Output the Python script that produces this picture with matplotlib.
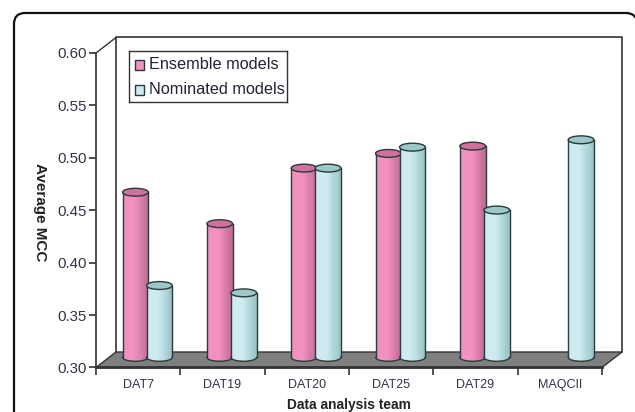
import matplotlib
matplotlib.use('Agg')
import matplotlib.pyplot as plt
from matplotlib.patches import Ellipse, FancyBboxPatch, Polygon, Rectangle
from matplotlib.transforms import Affine2D
from matplotlib.colors import to_rgb
import numpy as np

teams = ['DAT7', 'DAT19', 'DAT20', 'DAT25', 'DAT29', 'MAQCII']
ensemble = [0.461, 0.431, 0.484, 0.498, 0.505, None]
nominated = [0.372, 0.365, 0.484, 0.504, 0.444, 0.511]
yticks = [0.30, 0.35, 0.40, 0.45, 0.50, 0.55, 0.60]

PINK = '#f291bf'
PINK_DARK = '#c06c96'
PINK_TOP = '#d0709c'
BLUE = '#cdebf1'
BLUE_DARK = '#98c4c4'
BLUE_TOP = '#9cc8c8'
EDGE = '#2b3a3a'

plt.rcParams['font.family'] = ['Liberation Sans', 'DejaVu Sans']

W, H = 635, 412
fig = plt.figure(figsize=(W / 100, H / 100), dpi=100)

# rounded frame, runs off the bottom and right of the picture
bg = fig.add_axes([0, 0, 1, 1])
bg.set_xlim(0, W)
bg.set_ylim(H, 0)
bg.axis('off')
bg.add_patch(FancyBboxPatch((24, 23), 603, 420, boxstyle='round,pad=10,rounding_size=11',
                            fc='white', ec='#111111', lw=1.6))

# front plane of the 3d box
ax = fig.add_axes([96 / W, 1 - 367.5 / H, 506 / W, 314.5 / H])
n_teams = len(teams)
ax.set_xlim(0, n_teams)
ax.set_ylim(0.30, 0.60)
ax.patch.set_visible(False)
for s in ['top', 'right', 'bottom']:
    ax.spines[s].set_visible(False)
ax.spines['left'].set_color('#333333')
ax.spines['left'].set_linewidth(1.2)

back = ax.transData + Affine2D().translate(20, 15.5)
mid = ax.transData + Affine2D().translate(10.5, 6.5)

# wall and floor
ax.plot([0, 0, n_teams, n_teams], [0.30, 0.60, 0.60, 0.30], transform=back,
        color='#333333', lw=1.2, clip_on=False, zorder=1)
to_front = ax.transData.inverted()
b0 = to_front.transform(back.transform([0, 0.30]))
b1 = to_front.transform(back.transform([n_teams, 0.30]))
t0 = to_front.transform(back.transform([0, 0.60]))
ax.add_patch(Polygon([(0, 0.30), b0, b1, (n_teams, 0.30)], closed=True, fc='#7f7f7f',
                     ec='#333333', lw=1.0, clip_on=False, zorder=2))
ax.plot([0, t0[0]], [0.60, t0[1]], color='#333333', lw=1.0, clip_on=False, zorder=1)
ax.plot([0, n_teams], [0.30, 0.30], color='#333333', lw=2.0, clip_on=False, zorder=3)


def cylinder(x0, w, val, col, dark, top, z):
    # shaded body made of thin strips, lighter on the left, with a rounded bottom
    n = 24
    eh = 0.0075
    base = 0.3035
    c1, c2 = np.array(to_rgb(col)), np.array(to_rgb(dark))
    xs = np.linspace(x0, x0 + w, n + 1)
    for i in range(n):
        t = i / (n - 1)
        f = 0 if t < 0.45 else (t - 0.45) / 0.55
        c = c1 * (1 - f) + c2 * f
        u = (xs[i] + w / n / 2 - (x0 + w / 2)) / (w / 2)
        b = base - eh / 2 * np.sqrt(1 - u ** 2)
        ax.bar(xs[i], val - b, bottom=b, width=w / n * 1.05, align='edge', color=c,
               lw=0, transform=mid, clip_on=False, zorder=z)
    arc = np.linspace(-1, 1, 30)
    ax.plot(x0 + w / 2 + arc * w / 2, base - eh / 2 * np.sqrt(1 - arc ** 2), color=EDGE, lw=1.0,
            transform=mid, clip_on=False, zorder=z + 0.1)
    ax.plot([x0, x0], [base, val], color=EDGE, lw=1.0, transform=mid, clip_on=False, zorder=z + 0.1)
    ax.plot([x0 + w, x0 + w], [base, val], color=EDGE, lw=1.0, transform=mid, clip_on=False, zorder=z + 0.1)
    ax.add_patch(Ellipse((x0 + w / 2, val), w, eh, fc=top, ec=EDGE, lw=1.0, transform=mid,
                         clip_on=False, zorder=z + 0.2))


bw = 0.305
for i in range(n_teams):
    if ensemble[i] is not None:
        cylinder(i + 0.19, bw, ensemble[i], PINK, PINK_DARK, PINK_TOP, 4)
    cylinder(i + 0.475, bw, nominated[i], BLUE, BLUE_DARK, BLUE_TOP, 5)

ax.set_yticks(yticks)
ax.set_yticklabels(['%.2f' % v for v in yticks], fontsize=10.8, color='#333344')
ax.tick_params(axis='y', length=5, width=1.2, color='#333333', pad=1.5)
ax.set_xticks(range(n_teams + 1))
ax.set_xticklabels([''] * (n_teams + 1))
ax.tick_params(axis='x', length=5, width=1.2, color='#333333')
for i, t in enumerate(teams):
    ax.annotate(t, (i + 0.5, 0.30), xytext=(0, -18), textcoords='offset pixels', ha='center',
                va='center', fontsize=9, color='#333344', annotation_clip=False)

fig.text(40 / W, 1 - 212 / H, 'Average MCC', rotation=-90, ha='center', va='center',
         fontsize=11, fontweight='bold', color='#222222')
fig.text(349 / W, 1 - 404.5 / H, 'Data analysis team', ha='center', va='center',
         fontsize=9.9, fontweight='bold', color='#222222')

# legend box
leg = fig.add_axes([129 / W, 1 - 102 / H, 158 / W, 51 / H], zorder=10)
leg.set_xlim(129, 287)
leg.set_ylim(102, 51)
leg.set_xticks([])
leg.set_yticks([])
for s in leg.spines.values():
    s.set_color('#333333')
    s.set_linewidth(1.0)
leg.add_patch(Rectangle((135, 60), 9, 10, fc=PINK, ec=EDGE, lw=1))
leg.add_patch(Rectangle((135, 85), 9, 10, fc=BLUE, ec=EDGE, lw=1))
leg.text(149, 64.5, 'Ensemble models', fontsize=11.7, va='center', color='#222233')
leg.text(149, 89.5, 'Nominated models', fontsize=11.7, va='center', color='#222233')

fig.savefig('out.png', dpi=100)
